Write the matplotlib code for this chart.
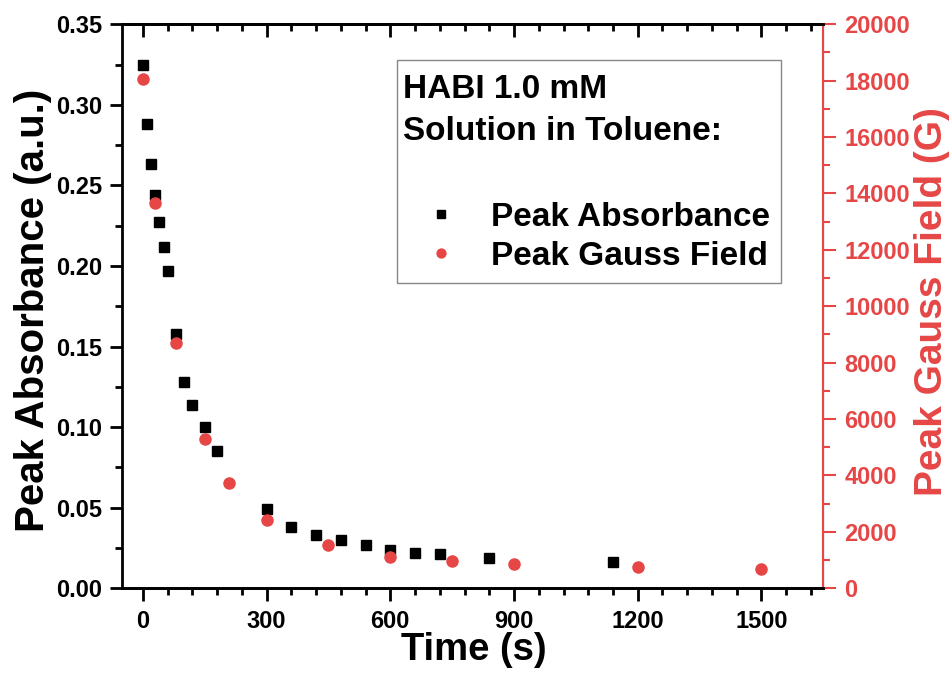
import matplotlib
matplotlib.use("Agg")
import matplotlib.pyplot as plt
from matplotlib.ticker import MultipleLocator
from matplotlib.patches import Rectangle

plt.rcParams['font.family'] = ['Liberation Sans', 'DejaVu Sans']
plt.rcParams['font.weight'] = 'bold'

# absorbance data (black squares)
t_abs = [0, 10, 20, 30, 40, 50, 60, 80, 100, 120, 150, 180, 300, 360, 420, 480, 540, 600, 660, 720, 840, 1140]
absorb = [0.325, 0.288, 0.263, 0.244, 0.227, 0.212, 0.197, 0.158, 0.128, 0.114, 0.100, 0.085,
          0.049, 0.038, 0.033, 0.030, 0.027, 0.024, 0.022, 0.021, 0.019, 0.016]

# gauss field data (red circles)
t_gauss = [0, 30, 80, 150, 210, 300, 450, 600, 750, 900, 1200, 1500]
gauss = [18060, 13650, 8710, 5290, 3750, 2420, 1540, 1120, 980, 860, 755, 675]

title_lines = ['HABI 1.0 mM', 'Solution in Toluene:']
labels = ['Peak Absorbance', 'Peak Gauss Field']

red = '#E64646'

fig = plt.figure(figsize=(9.53, 6.73), dpi=100)
ax = fig.add_axes([0.1283, 0.1259, 0.7356, 0.838])
ax2 = ax.twinx()

h1, = ax.plot(t_abs, absorb, 's', color='black', ms=7.5, ls='none')
h2, = ax2.plot(t_gauss, gauss, 'o', color=red, ms=8, ls='none')

ax.set_xlim(-50, 1650)
ax.set_ylim(0, 0.35)
ax2.set_ylim(0, 20000)

ax.xaxis.set_major_locator(MultipleLocator(300))
ax.xaxis.set_minor_locator(MultipleLocator(60))
ax.yaxis.set_major_locator(MultipleLocator(0.05))
ax.yaxis.set_minor_locator(MultipleLocator(0.025))
ax2.yaxis.set_major_locator(MultipleLocator(2000))
ax2.yaxis.set_minor_locator(MultipleLocator(1000))
ax.yaxis.set_major_formatter(plt.FormatStrFormatter('%.2f'))

for s in ['left', 'bottom', 'top']:
    ax.spines[s].set_linewidth(2)
ax2.spines['right'].set_color(red)
ax2.spines['right'].set_linewidth(1.5)
ax2.spines['left'].set_visible(False)
ax2.spines['top'].set_linewidth(2)
ax2.spines['bottom'].set_linewidth(2)

ax.tick_params(axis='x', which='both', direction='out', top=True, labelsize=17, width=2, pad=7)
ax.tick_params(axis='x', which='major', length=9)
ax.tick_params(axis='x', which='minor', length=5)
ax.tick_params(axis='y', which='both', direction='out', right=False, labelsize=17, width=2, pad=5.5)
ax.tick_params(axis='y', which='major', length=9)
ax.tick_params(axis='y', which='minor', length=5)
# top ticks point inward
for tk in ax.xaxis.get_major_ticks() + ax.xaxis.get_minor_ticks():
    tk.tick2line.set_marker(3)

ax2.tick_params(axis='y', which='both', direction='out', colors=red, labelsize=17, width=1.5, pad=6)
ax2.tick_params(axis='y', which='major', length=9)
ax2.tick_params(axis='y', which='minor', length=5)

ax.set_xlabel('Time (s)', fontsize=27.5, fontweight='bold')
ax.set_ylabel('Peak Absorbance (a.u.)', fontsize=29, fontweight='bold')
ax2.set_ylabel('Peak Gauss Field (G)', fontsize=28, fontweight='bold', color=red)
ax.xaxis.set_label_coords(0.502, -0.127)
ax.xaxis.label.set_verticalalignment('baseline')
ax.yaxis.set_label_coords(-0.100, 0.492)
ax2.yaxis.set_label_coords(1.130, 0.508)

# legend box with the sample description on top
ax2.add_patch(Rectangle((0.3914, 0.5418), 0.5478, 0.3949, transform=ax2.transAxes,
                        facecolor='white', edgecolor='#888888', lw=1, zorder=5))
ax2.text(0.4009, 0.8688, title_lines[0], transform=ax2.transAxes, fontsize=24,
         fontweight='bold', va='baseline', ha='left', zorder=6)
ax2.text(0.4009, 0.7949, title_lines[1], transform=ax2.transAxes, fontsize=24,
         fontweight='bold', va='baseline', ha='left', zorder=6)
leg = ax2.legend([h1, h2], labels, loc='upper left', bbox_to_anchor=(0.4113, 0.685),
                 fontsize=24, frameon=False, handlelength=1.8, handletextpad=0.62,
                 labelspacing=0.24, borderpad=0, borderaxespad=0, markerscale=0.8)
leg.set_zorder(7)

fig.savefig('out.png', dpi=100)
